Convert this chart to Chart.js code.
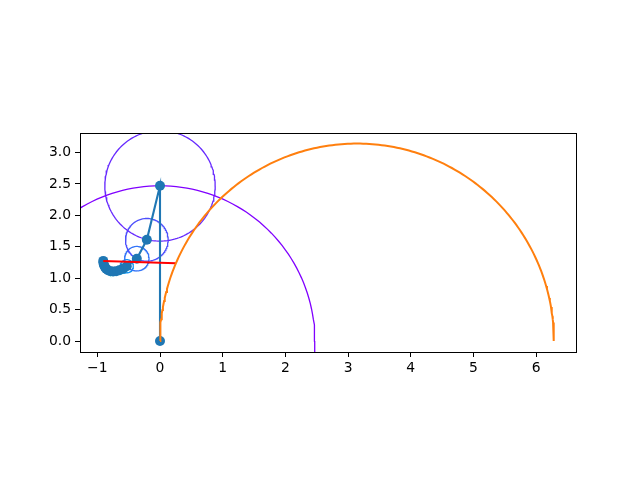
<!DOCTYPE html>
<html>
<head>
<meta charset="utf-8">
<title>epicycles</title>
<script src="https://cdn.jsdelivr.net/npm/chart.js@4.4.0/dist/chart.umd.min.js"></script>
<style>
  html, body { margin: 0; padding: 0; background: #fff; }
  canvas { display: block; }
</style>
</head>
<body>
<canvas id="myChart" width="640" height="480"></canvas>
<script>
'use strict';

// global variables

// joints of the epicycle chain
let chainX = [0, 0, -0.21, -0.37, -0.53, -0.59, -0.65, -0.70, -0.75, -0.79, -0.83, -0.86, -0.88, -0.895, -0.903, -0.905];
let chainY = [0, 2.47, 1.61, 1.31, 1.19, 1.15, 1.125, 1.11, 1.105, 1.11, 1.125, 1.15, 1.18, 1.21, 1.245, 1.275];

// radius of the circle around each joint
let circleR = [2.47, 0.88, 0.34, 0.195, 0.105, 0.07, 0.06, 0.055, 0.05, 0.045, 0.04, 0.04, 0.035, 0.035, 0.03];

// target curve: upper half circle
let targetCenter = [3.1416, 0];
let targetRadius = 3.1416;

// red link from the tip to the curve
let linkX = [-0.905, 0.255];
let linkY = [1.275, 1.237];

let xTicks = [-1, 0, 1, 2, 3, 4, 5, 6];
let yTicks = [0, 0.5, 1, 1.5, 2, 2.5, 3];

let xMin = -1.276;
let xMax = 6.635;
let yMin = -0.175;
let yMax = 3.31;

let circleColors = ['#8000ff', '#6629fe', '#4d4ffc', '#3374f8', '#1a96f2', '#00b5eb',
  '#1acfe3', '#33e3d9', '#4df3ce', '#66fcc2', '#80ffb4', '#99fca5', '#b3f396', '#ccea85', '#e6de74'];

// functional logic

function arcPoints(cx, cy, r, from, to, steps) {
  let pts = [];
  for (let i = 0; i <= steps; i++) {
    let a = from + (to - from) * i / steps;
    pts.push({ x: cx + r * Math.cos(a), y: cy + r * Math.sin(a) });
  }
  return pts;
}

function zip(xs, ys) {
  let pts = [];
  for (let i = 0; i < xs.length; i++) {
    pts.push({ x: xs[i], y: ys[i] });
  }
  return pts;
}

function minusLabel(v) {
  return v < 0 ? '\u2212' + Math.abs(v) : String(v);
}

let boxPlugin = {
  id: 'box',
  afterDatasetsDraw(chart) {
    let a = chart.chartArea;
    let ctx = chart.ctx;
    ctx.save();
    ctx.strokeStyle = '#000';
    ctx.lineWidth = 1;
    ctx.strokeRect(Math.round(a.left) + 0.5, Math.round(a.top) + 0.5,
      Math.round(a.right - a.left), Math.round(a.bottom - a.top));
    ctx.restore();
  }
};

let datasets = [];

datasets.push({
  label: 'target',
  data: arcPoints(targetCenter[0], targetCenter[1], targetRadius, Math.PI, 0, 200),
  showLine: true,
  borderColor: '#ff7f0e',
  borderWidth: 2,
  pointRadius: 0,
  order: 0
});

datasets.push({
  label: 'link',
  data: zip(linkX, linkY),
  showLine: true,
  borderColor: '#ff0000',
  borderWidth: 2,
  pointRadius: 0,
  order: 1
});

datasets.push({
  label: 'chain',
  data: zip(chainX, chainY),
  showLine: true,
  borderColor: '#1f77b4',
  backgroundColor: '#1f77b4',
  borderWidth: 2.1,
  pointRadius: 5,
  pointBorderWidth: 0,
  order: 2
});

for (let i = 0; i < circleR.length; i++) {
  datasets.push({
    label: 'circle' + i,
    data: arcPoints(chainX[i], chainY[i], circleR[i], 0, 2 * Math.PI, 180),
    showLine: true,
    borderColor: circleColors[i],
    borderWidth: 1.3,
    pointRadius: 0,
    order: 3 + i
  });
}

let tickFont = { family: 'DejaVu Sans', size: 13.9 };

const config = {
  type: 'scatter',
  data: { datasets: datasets },
  options: {
    responsive: false,
    animation: false,
    devicePixelRatio: 1,
    layout: { padding: { left: 0, right: 64, top: 133, bottom: 0 } },
    plugins: {
      legend: { display: false },
      tooltip: { enabled: false }
    },
    elements: { line: { tension: 0 } },
    scales: {
      x: {
        type: 'linear',
        min: xMin,
        max: xMax,
        afterBuildTicks: function (scale) {
          scale.ticks = xTicks.map(v => ({ value: v }));
        },
        afterFit: function (scale) { scale.height = 128; },
        border: { display: false },
        grid: { drawOnChartArea: false, drawTicks: true, tickLength: 5, tickColor: '#000', tickWidth: 1 },
        ticks: { color: '#000', font: tickFont, padding: 3, maxRotation: 0, callback: minusLabel }
      },
      y: {
        type: 'linear',
        min: yMin,
        max: yMax,
        afterBuildTicks: function (scale) {
          scale.ticks = yTicks.map(v => ({ value: v }));
        },
        afterFit: function (scale) { scale.width = 80; },
        border: { display: false },
        grid: { drawOnChartArea: false, drawTicks: true, tickLength: 5, tickColor: '#000', tickWidth: 1 },
        ticks: { color: '#000', font: tickFont, padding: 4, callback: v => v.toFixed(1) }
      }
    }
  },
  plugins: [boxPlugin]
};

// executable code

let canvasChart = document.getElementById('myChart');
const myChart = new Chart(canvasChart, config);
</script>
</body>
</html>
